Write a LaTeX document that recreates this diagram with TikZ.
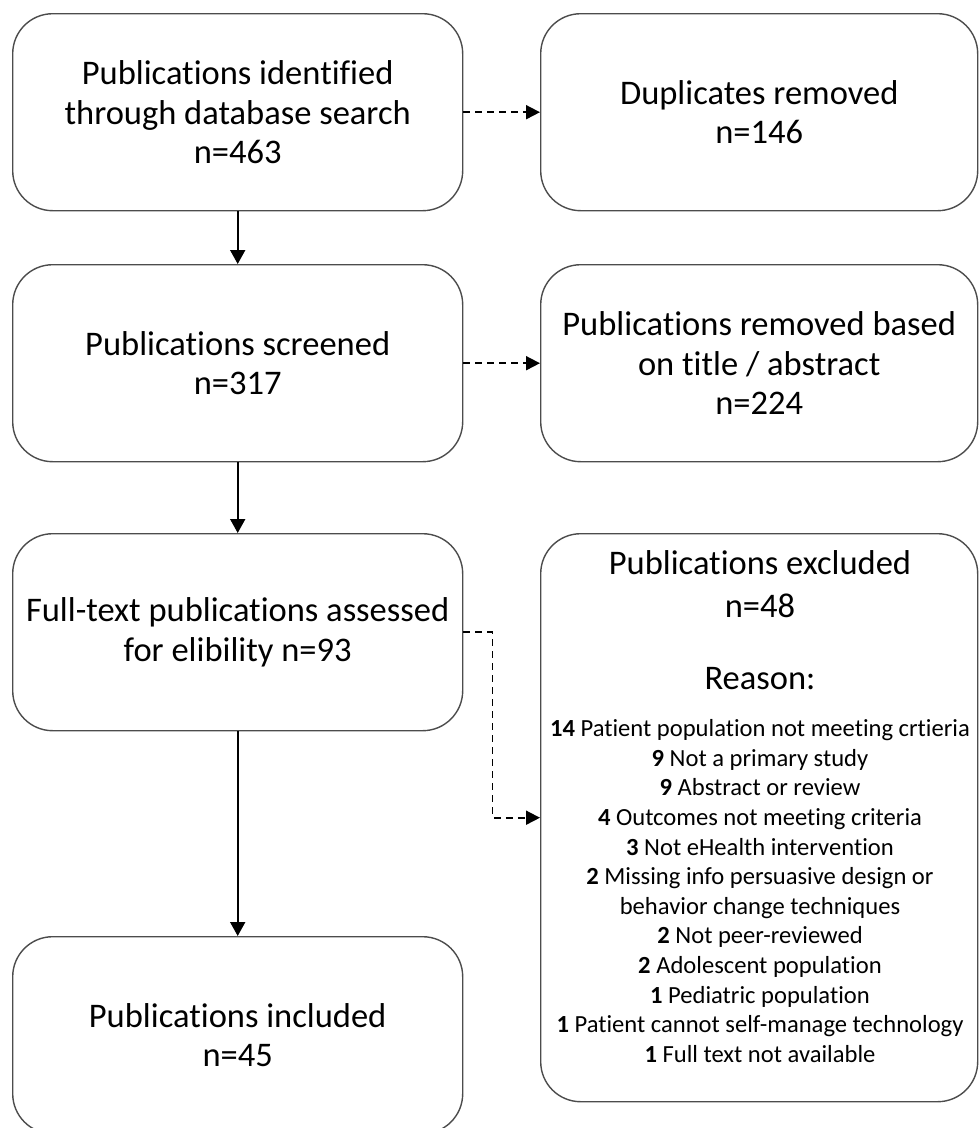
\documentclass[tikz,border=0pt]{standalone}
\usepackage{fontspec}
\setmainfont[Ligatures=NoCommon]{Carlito}
\usetikzlibrary{arrows.meta}
\begin{document}
\begin{tikzpicture}[x=1pt,y=-1pt,
  box/.style={draw=black!70, line width=1.4pt, rounded corners=40pt, anchor=north west, inner sep=0pt, align=center, font=\fontsize{34.5}{39.5}\selectfont},
  leftbox/.style={box, minimum width=450pt, minimum height=197pt},
  rightbox/.style={box, minimum width=437pt, minimum height=197pt},
  big/.style={font=\fontsize{34.5}{43}\selectfont, align=center, inner sep=0pt},
  small/.style={font=\fontsize{24.6}{29.6}\selectfont, align=center, inner sep=0pt},
  solidarrow/.style={line width=1.8pt, -{Triangle[length=14pt,width=15pt]}},
  dasharrow/.style={line width=1.8pt, dash pattern=on 7pt off 5pt, -{Triangle[length=14pt,width=14pt]}}]
\useasboundingbox (0,0) rectangle (978,1128);
\node[leftbox] (A) at (12,13) {Publications identified\\through database search\\n=463};
\node[rightbox] (B) at (540,13) {Duplicates removed\\n=146};
\node[leftbox] (C) at (12,264) {Publications screened\\n=317};
\node[rightbox] (D) at (540,264) {Publications removed based\\on title / abstract\\n=224};
\node[leftbox] (E) at (12,533) {Full-text publications assessed\\for elibility n=93};
\node[rightbox, minimum height=568pt] (F) at (540,533) {};
\node[leftbox] (G) at (12,936) {Publications included\\n=45};
\node[big] (f1) at (760,584) {Publications excluded\\n=48};
\node[big] (f2) at (760,679) {Reason:};
\node[small] (f3) at (760,891) {\textbf{14} Patient population not meeting crtieria\\
\textbf{9} Not a primary study\\
\textbf{9} Abstract or review\\
\textbf{4} Outcomes not meeting criteria\\
\textbf{3} Not eHealth intervention\\
\textbf{2} Missing info persuasive design or\\
behavior change techniques\\
\textbf{2} Not peer-reviewed\\
\textbf{2} Adolescent population\\
\textbf{1} Pediatric population\\
\textbf{1} Patient cannot self-manage technology\\
\textbf{1} Full text not available};
\draw[solidarrow] (A.south) -- (C.north);
\draw[solidarrow] (C.south) -- (E.north);
\draw[solidarrow] (E.south) -- (G.north);
\draw[dasharrow] (A.east) -- (B.west);
\draw[dasharrow] (C.east) -- (D.west);
\draw[dasharrow] (E.east) -- ([xshift=29pt]E.east) |- (F.west);
\end{tikzpicture}
\end{document}
